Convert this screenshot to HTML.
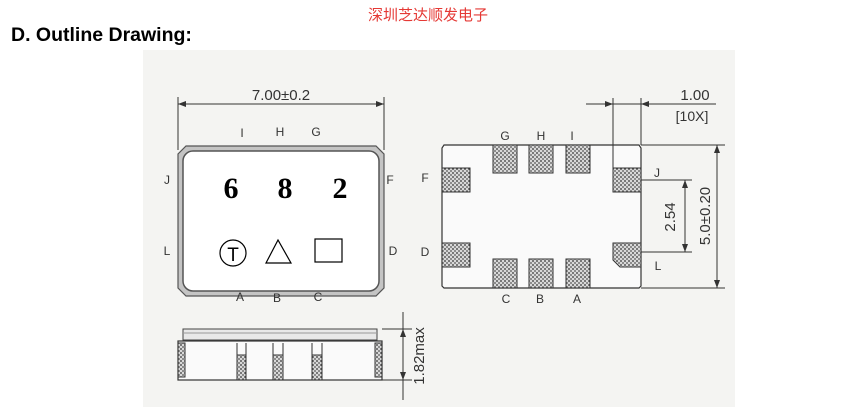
<!DOCTYPE html>
<html><head><meta charset="utf-8"><style>
html,body{margin:0;padding:0;background:#fff;width:853px;height:417px;overflow:hidden}
svg{display:block}
</style></head><body>
<svg width="853" height="417" viewBox="0 0 853 417" xmlns="http://www.w3.org/2000/svg" font-family="Liberation Sans, sans-serif">
<defs>
<pattern id="dots" width="4" height="4" patternUnits="userSpaceOnUse">
<rect width="4" height="4" fill="#d8d8d8"/><circle cx="1" cy="1" r="0.9" fill="#333"/><circle cx="3" cy="3" r="0.9" fill="#555"/>
</pattern>
</defs>
<rect x="143" y="50" width="592" height="357" fill="#f4f4f2"/>
<text x="428" y="20" font-size="15" fill="#e53935" text-anchor="middle" font-family="Liberation Sans, Noto Sans CJK SC, sans-serif">深圳芝达顺发电子</text>
<text x="11" y="41" font-size="19.5" font-weight="bold" fill="#000">D. Outline Drawing:</text>

<g stroke="#333" fill="none" stroke-width="1">
<line x1="178" y1="97" x2="178" y2="150"/><line x1="384" y1="97" x2="384" y2="150"/>
<line x1="178" y1="104" x2="384" y2="104"/>
<path d="M186 146 H376 L384 154 V288 L376 296 H186 L178 288 V154 Z" fill="#c4c4c4" stroke="#555" stroke-width="1.2"/>
<rect x="183" y="151" width="196" height="140" rx="10" fill="#fff" stroke="#555" stroke-width="1.5"/>
</g>
<polygon points="178,104 186,101 186,107" fill="#333"/><polygon points="384,104 376,101 376,107" fill="#333"/>
<text x="281" y="100" font-size="15" text-anchor="middle" fill="#333">7.00±0.2</text>
<g font-size="12" fill="#333" text-anchor="middle">
<text x="242" y="137">I</text><text x="280" y="136">H</text><text x="316" y="136">G</text>
<text x="167" y="184">J</text><text x="390" y="184">F</text>
<text x="167" y="255">L</text><text x="393" y="255">D</text>
<text x="240" y="301">A</text><text x="277" y="302">B</text><text x="318" y="301">C</text>
</g>
<g font-family="Liberation Serif, serif" font-weight="bold" font-size="30" fill="#000" text-anchor="middle">
<text x="231" y="198">6</text><text x="285" y="198">8</text><text x="340" y="198">2</text>
</g>
<circle cx="233" cy="253" r="13" fill="none" stroke="#000" stroke-width="1.2"/>
<text x="233" y="261" font-size="19" text-anchor="middle">T</text>
<polygon points="278,240 266,263 291,263" fill="none" stroke="#000" stroke-width="1.2"/>
<rect x="315" y="239" width="27" height="23" fill="none" stroke="#000" stroke-width="1.2"/>

<g stroke="#333" fill="none" stroke-width="1.2">
<path d="M444 145 H639 L641 148 V286 L639 288 H444 L442 286 V148 Z" fill="#fafafa"/>
</g>
<g fill="url(#dots)" stroke="#333">
<rect x="493" y="145" width="24" height="28"/><rect x="529" y="145" width="24" height="28"/><rect x="566" y="145" width="24" height="28"/>
<rect x="493" y="259" width="24" height="29"/><rect x="529" y="259" width="24" height="29"/><rect x="566" y="259" width="24" height="29"/>
<rect x="442" y="168" width="28" height="24"/><rect x="442" y="243" width="28" height="24"/>
<rect x="613" y="168" width="28" height="24"/><path d="M613 243 H641 V267 H620 L613 260 Z"/>
</g>
<g stroke="#333" stroke-width="1">
<line x1="613" y1="98" x2="613" y2="168"/><line x1="641" y1="98" x2="641" y2="145"/>
<line x1="586" y1="104" x2="716" y2="104"/>
<line x1="641" y1="145" x2="725" y2="145"/><line x1="641" y1="288" x2="725" y2="288"/>
<line x1="717" y1="145" x2="717" y2="288"/>
<line x1="641" y1="180" x2="692" y2="180"/><line x1="641" y1="252" x2="692" y2="252"/>
<line x1="685" y1="180" x2="685" y2="252"/>
</g>
<g fill="#333">
<polygon points="613,104 605,101 605,107"/><polygon points="641,104 649,101 649,107"/>
<polygon points="717,145 714,153 720,153"/><polygon points="717,288 714,280 720,280"/>
<polygon points="685,180 682,188 688,188"/><polygon points="685,252 682,244 688,244"/>
</g>
<text x="695" y="100" font-size="15" text-anchor="middle" fill="#333">1.00</text>
<text x="692" y="121" font-size="14" text-anchor="middle" fill="#333">[10X]</text>
<text transform="translate(710,216) rotate(-90)" font-size="15" text-anchor="middle" fill="#333">5.0±0.20</text>
<text transform="translate(675,217) rotate(-90)" font-size="15" text-anchor="middle" fill="#333">2.54</text>
<g font-size="12" fill="#333" text-anchor="middle">
<text x="505" y="140">G</text><text x="541" y="140">H</text><text x="572" y="140">I</text>
<text x="425" y="182">F</text><text x="425" y="256">D</text>
<text x="657" y="177">J</text><text x="658" y="270">L</text>
<text x="506" y="303">C</text><text x="540" y="303">B</text><text x="577" y="303">A</text>
</g>

<rect x="183" y="329" width="194" height="11" fill="#e8e8e8" stroke="#444"/>
<line x1="183" y1="333" x2="377" y2="333" stroke="#999"/>
<rect x="178" y="341" width="204" height="39" fill="#fafafa" stroke="#333" stroke-width="1.2"/>
<g fill="url(#dots)" stroke="#333">
<rect x="178" y="343" width="7" height="34"/><rect x="375" y="343" width="7" height="34"/>
<rect x="237" y="355" width="9" height="25"/><rect x="273" y="355" width="10" height="25"/><rect x="312" y="355" width="10" height="25"/>
</g>
<g stroke="#333"><line x1="237" y1="343" x2="237" y2="355"/><line x1="246" y1="343" x2="246" y2="355"/><line x1="273" y1="343" x2="273" y2="355"/><line x1="283" y1="343" x2="283" y2="355"/><line x1="312" y1="343" x2="312" y2="355"/><line x1="322" y1="343" x2="322" y2="355"/>
<line x1="382" y1="329" x2="412" y2="329"/><line x1="382" y1="380" x2="412" y2="380"/><line x1="403" y1="312" x2="403" y2="400"/></g>
<polygon points="403,329 400,337 406,337" fill="#333"/><polygon points="403,380 400,372 406,372" fill="#333"/>
<text transform="translate(424,356) rotate(-90)" font-size="15" text-anchor="middle" fill="#333">1.82max</text>
</svg>
</body></html>
